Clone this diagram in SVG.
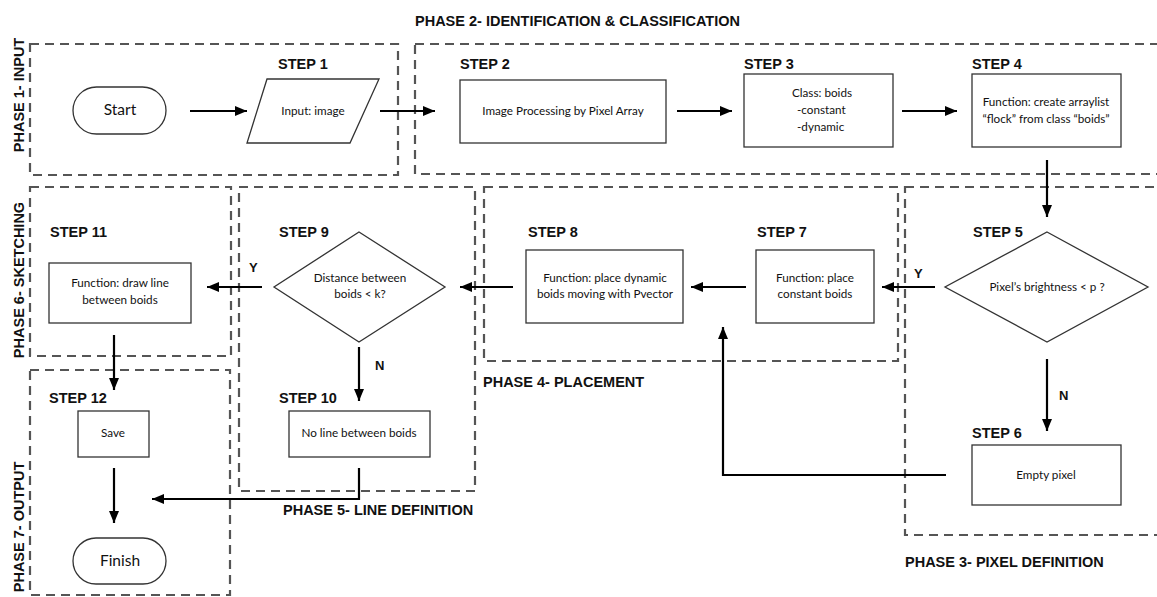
<svg xmlns="http://www.w3.org/2000/svg" width="1157" height="597" viewBox="0 0 1157 597">
<style>
.bg{fill:#fff}
.phase{fill:none;stroke:#555;stroke-width:2.2;stroke-dasharray:9 6}
.node{fill:#fff;stroke:#333;stroke-width:1.3}
.conn{fill:none;stroke:#000;stroke-width:2.2}
.step{font-family:"Liberation Sans",Arial,sans-serif;font-weight:bold;font-size:14.5px;fill:#111}
.plabel{font-family:"Liberation Sans",Arial,sans-serif;font-weight:bold;font-size:14.5px;fill:#111}
.txt{font-family:Lato,"Open Sans",sans-serif;font-size:11.7px;fill:#111;text-anchor:middle}
.big{font-family:Lato,"Open Sans",sans-serif;font-size:15.5px;fill:#111;text-anchor:middle}
.yn{font-family:"Liberation Sans",Arial,sans-serif;font-weight:bold;font-size:13px;fill:#111}
</style>
<defs>
<marker id="ah" viewBox="0 0 12 10" refX="12" refY="5" markerWidth="12" markerHeight="10" orient="auto" markerUnits="userSpaceOnUse">
<path d="M0,0 L12,5 L0,10 z" fill="#000"/>
</marker>
</defs>
<rect class="bg" x="0" y="0" width="1157" height="597"/>

<g id="phases">
<rect class="phase" x="30" y="44" width="368" height="131"/>
<rect class="phase" x="415" y="44" width="760" height="130"/>
<rect class="phase" x="905" y="187" width="270" height="348"/>
<rect class="phase" x="484" y="187" width="414" height="174"/>
<rect class="phase" x="239" y="187" width="236" height="304"/>
<rect class="phase" x="30" y="187" width="201" height="169"/>
<rect class="phase" x="30" y="370" width="200" height="225"/>
<text class="plabel" x="415" y="26">PHASE 2- IDENTIFICATION &amp; CLASSIFICATION</text>
<text class="plabel" x="483" y="387">PHASE 4- PLACEMENT</text>
<text class="plabel" x="283" y="515">PHASE 5- LINE DEFINITION</text>
<text class="plabel" x="905" y="567">PHASE 3- PIXEL DEFINITION</text>
<text class="plabel" text-anchor="middle" transform="translate(24,95) rotate(-90)">PHASE 1- INPUT</text>
<text class="plabel" text-anchor="middle" transform="translate(24,280) rotate(-90)">PHASE 6- SKETCHING</text>
<text class="plabel" text-anchor="middle" transform="translate(24,527) rotate(-90)">PHASE 7- OUTPUT</text>
</g>

<g id="connectors">
<path class="conn" d="M190,111 H247" marker-end="url(#ah)"/>
<path class="conn" d="M380,111 H435" marker-end="url(#ah)"/>
<path class="conn" d="M677,111 H732" marker-end="url(#ah)"/>
<path class="conn" d="M902,111 H957" marker-end="url(#ah)"/>
<path class="conn" d="M1047,160 V217" marker-end="url(#ah)"/>
<path class="conn" d="M935,287 H882" marker-end="url(#ah)"/>
<path class="conn" d="M746,287 H691" marker-end="url(#ah)"/>
<path class="conn" d="M513,287 H460" marker-end="url(#ah)"/>
<path class="conn" d="M262,287 H207" marker-end="url(#ah)"/>
<path class="conn" d="M359,347 V401" marker-end="url(#ah)"/>
<path class="conn" d="M1047,359 V431" marker-end="url(#ah)"/>
<path class="conn" d="M946,475 H723 V327" marker-end="url(#ah)"/>
<path class="conn" d="M359,468 V499 H152" marker-end="url(#ah)"/>
<path class="conn" d="M114,335 V390" marker-end="url(#ah)"/>
<path class="conn" d="M114,468 V523" marker-end="url(#ah)"/>
<text class="yn" x="914" y="278">Y</text>
<text class="yn" x="249" y="272">Y</text>
<text class="yn" x="375" y="370">N</text>
<text class="yn" x="1059" y="400">N</text>
</g>

<g id="start">
<rect class="node" x="73" y="87" width="93" height="47" rx="23.5"/>
<text class="big" x="120" y="115">Start</text>
</g>
<g id="step1">
<text class="step" x="278" y="69">STEP 1</text>
<polygon class="node" points="267,79 379,79 350,143 247,143"/>
<text class="txt" x="313" y="115">Input: image</text>
</g>
<g id="step2">
<text class="step" x="460" y="69">STEP 2</text>
<rect class="node" x="460" y="80" width="206" height="63"/>
<text class="txt" x="563" y="115">Image Processing by Pixel Array</text>
</g>
<g id="step3">
<text class="step" x="744" y="69">STEP 3</text>
<rect class="node" x="744" y="74" width="149" height="73"/>
<text class="txt" x="792" y="97" style="text-anchor:start">Class: boids</text>
<text class="txt" x="797" y="114" style="text-anchor:start">-constant</text>
<text class="txt" x="797" y="131" style="text-anchor:start">-dynamic</text>
</g>
<g id="step4">
<text class="step" x="972" y="69">STEP 4</text>
<rect class="node" x="972" y="74" width="149" height="73"/>
<text class="txt" x="1046" y="106">Function: create arraylist</text>
<text class="txt" x="1046" y="123">“flock” from class “boids”</text>
</g>
<g id="step5">
<text class="step" x="973" y="237">STEP 5</text>
<polygon class="node" points="1047,232 1148,287 1047,342 945,287"/>
<text class="txt" x="1047" y="291">Pixel’s brightness &lt; p ?</text>
</g>
<g id="step6">
<text class="step" x="972" y="438">STEP 6</text>
<rect class="node" x="972" y="445" width="149" height="60"/>
<text class="txt" x="1046" y="479">Empty pixel</text>
</g>
<g id="step7">
<text class="step" x="757" y="237">STEP 7</text>
<rect class="node" x="756" y="250" width="118" height="73"/>
<text class="txt" x="815" y="282">Function: place</text>
<text class="txt" x="815" y="298">constant boids</text>
</g>
<g id="step8">
<text class="step" x="528" y="237">STEP 8</text>
<rect class="node" x="526" y="250" width="157" height="73"/>
<text class="txt" x="605" y="282">Function: place dynamic</text>
<text class="txt" x="605" y="298">boids moving with Pvector</text>
</g>
<g id="step9">
<text class="step" x="279" y="237">STEP 9</text>
<polygon class="node" points="359,232 445,287 359,342 274,287"/>
<text class="txt" x="360" y="282">Distance between</text>
<text class="txt" x="360" y="298">boids &lt; k?</text>
</g>
<g id="step10">
<text class="step" x="279" y="403">STEP 10</text>
<rect class="node" x="289" y="411" width="141" height="46"/>
<text class="txt" x="359" y="437">No line between boids</text>
</g>
<g id="step11">
<text class="step" x="50" y="237">STEP 11</text>
<rect class="node" x="49" y="263" width="142" height="60"/>
<text class="txt" x="120" y="287">Function: draw line</text>
<text class="txt" x="120" y="304">between boids</text>
</g>
<g id="step12">
<text class="step" x="49" y="403">STEP 12</text>
<rect class="node" x="78" y="411" width="71" height="46"/>
<text class="txt" x="113" y="437">Save</text>
</g>
<g id="finish">
<rect class="node" x="73" y="538" width="93" height="46" rx="23"/>
<text class="big" x="120" y="566">Finish</text>
</g>
</svg>
